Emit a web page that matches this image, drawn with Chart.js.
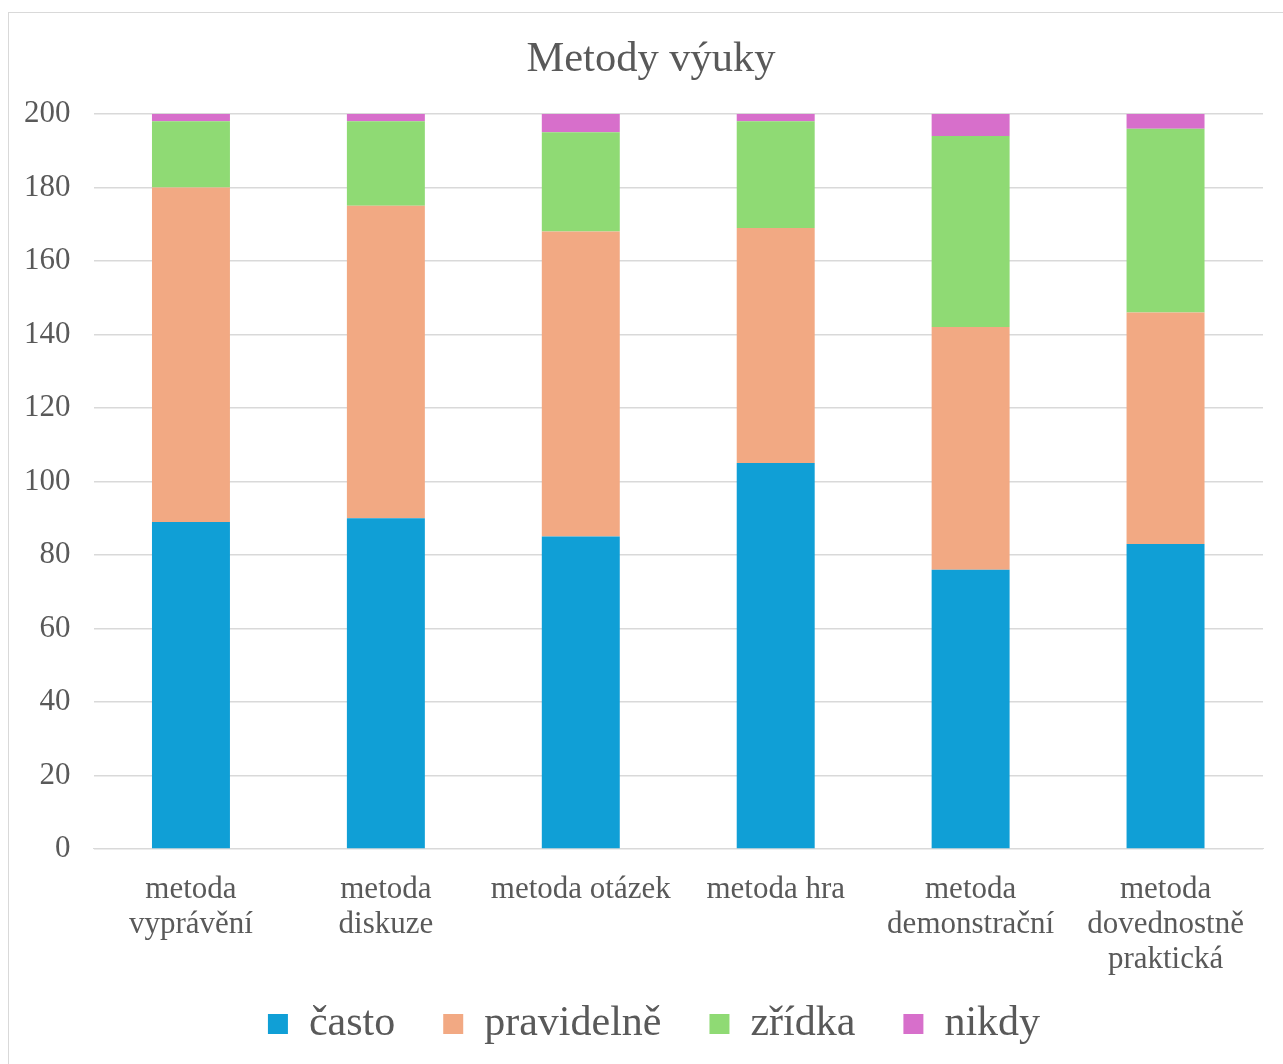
<!DOCTYPE html>
<html>
<head>
<meta charset="utf-8">
<script src="https://cdn.jsdelivr.net/npm/chart.js@4/dist/chart.umd.min.js"></script>
<style>
  body { margin: 0; background: #fff; }
  #frame { position: absolute; left: 8px; top: 12px; width: 1300px; height: 1100px; border: 1px solid #d9d9d9; }
  #wrap { position: absolute; left: 0; top: 0; width: 1283px; height: 1064px; }
</style>
</head>
<body>
<div id="frame"></div>
<div id="wrap"><canvas id="barChart"></canvas></div>
<script>
// kategorie (víceřádkové popisky)
const categories = [
  ['metoda', 'vyprávění'],
  ['metoda', 'diskuze'],
  'metoda otázek',
  'metoda hra',
  ['metoda', 'demonstrační'],
  ['metoda', 'dovednostně', 'praktická']
];
const casto = [89, 90, 85, 105, 76, 83];
const pravidelne = [91, 85, 83, 64, 66, 63];
const zridka = [18, 23, 27, 29, 52, 50];
const nikdy = [2, 2, 5, 2, 6, 4];
const yTicks = [0, 20, 40, 60, 80, 100, 120, 140, 160, 180, 200];

const textColor = '#595959';
const serif = "'Liberation Serif', 'Times New Roman', serif";

const ctx = document.getElementById('barChart').getContext('2d');
const myBarChart = new Chart(ctx, {
  type: 'bar',
  data: {
    labels: categories,
    datasets: [
      { label: 'často', data: casto, backgroundColor: '#109fd6' },
      { label: 'pravidelně', data: pravidelne, backgroundColor: '#f2a983' },
      { label: 'zřídka', data: zridka, backgroundColor: '#8fda74' },
      { label: 'nikdy', data: nikdy, backgroundColor: '#d76fcb' }
    ]
  },
  options: {
    responsive: true,
    maintainAspectRatio: false,
    animation: false,
    datasets: { bar: { categoryPercentage: 1, barPercentage: 0.4 } },
    layout: { padding: { left: 1, right: 20, top: 10, bottom: 9 } },
    plugins: {
      title: {
        display: true,
        text: 'Metody výuky',
        color: textColor,
        font: { family: serif, size: 42.5, weight: 'normal' },
        padding: { top: 24, bottom: 29 }
      },
      legend: {
        position: 'bottom',
        labels: {
          color: textColor,
          font: { family: serif, size: 42 },
          boxWidth: 20,
          boxHeight: 20,
          padding: 48
        }
      },
      tooltip: { enabled: false }
    },
    scales: {
      x: {
        stacked: true,
        grid: { display: false },
        border: { color: '#d9d9d9', width: 1 },
        ticks: {
          color: textColor,
          font: { family: serif, size: 31, lineHeight: 1.13 },
          maxRotation: 0,
          autoSkip: false,
          padding: 15
        }
      },
      y: {
        stacked: true,
        min: 0,
        max: 200,
        afterBuildTicks: axis => { axis.ticks = yTicks.map(v => ({ value: v })); },
        grid: { color: '#d9d9d9', lineWidth: 1.5, drawTicks: false },
        border: { display: false },
        ticks: {
          color: textColor,
          font: { family: serif, size: 31 },
          padding: 23
        }
      }
    }
  }
});

// legenda: méně prázdného místa nad položkami, titulek a legenda vystředěné na rámeček
const legendShift = 37;
const legendFit = myBarChart.legend.fit;
myBarChart.legend.fit = function () {
  legendFit.call(this);
  this.height -= legendShift;
};
const legendDraw = myBarChart.legend.draw;
myBarChart.legend.draw = function () {
  const c = this.ctx;
  const top = this.top;
  this.top = top - legendShift;
  c.save();
  c.translate(22, 0);
  legendDraw.apply(this, arguments);
  c.restore();
  this.top = top;
};
const titleDraw = myBarChart.titleBlock.draw;
myBarChart.titleBlock.draw = function () {
  const c = this.ctx;
  c.save();
  c.translate(19, 0);
  titleDraw.apply(this, arguments);
  c.restore();
};
myBarChart.update();
</script>
</body>
</html>
